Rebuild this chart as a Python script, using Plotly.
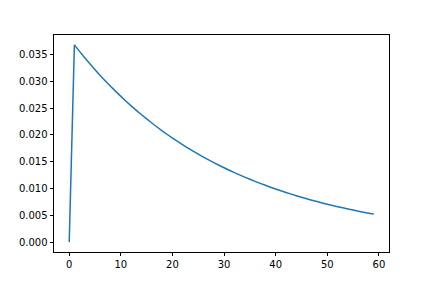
import plotly.graph_objects as go

steps = list(range(60))
values = [
    0.0, 0.03680, 0.03558, 0.03440, 0.03327, 0.03217, 0.03110, 0.03007, 0.02908, 0.02812,
    0.02719, 0.02629, 0.02542, 0.02458, 0.02376, 0.02298, 0.02222, 0.02148, 0.02077, 0.02008,
    0.01942, 0.01878, 0.01815, 0.01755, 0.01697, 0.01641, 0.01587, 0.01534, 0.01483, 0.01434,
    0.01387, 0.01341, 0.01297, 0.01254, 0.01212, 0.01172, 0.01133, 0.01096, 0.01060, 0.01025,
    0.00991, 0.00958, 0.00926, 0.00896, 0.00866, 0.00837, 0.00810, 0.00783, 0.00757, 0.00732,
    0.00708, 0.00684, 0.00662, 0.00640, 0.00619, 0.00598, 0.00578, 0.00559, 0.00541, 0.00523,
]
x_ticks = [0, 10, 20, 30, 40, 50, 60]
y_ticks = [0.0, 0.005, 0.010, 0.015, 0.020, 0.025, 0.030, 0.035]

fig = go.Figure()
fig.add_trace(go.Scatter(x=steps, y=values, mode="lines",
                         line=dict(color="#1f77b4", width=1.5, simplify=False)))

axis_common = dict(showline=True, linecolor="black", linewidth=0.8, mirror=True,
                   ticks="outside", ticklen=3.5, tickwidth=0.8, tickcolor="black",
                   showgrid=False, zeroline=False,
                   tickfont=dict(family="DejaVu Sans", size=10, color="black"))

fig.update_layout(
    width=432, height=288,
    margin=dict(l=54, r=43, t=35, b=36),
    paper_bgcolor="white", plot_bgcolor="white",
    showlegend=False,
    xaxis=dict(range=[-2.95, 61.95], tickvals=x_ticks, **axis_common),
    yaxis=dict(range=[-0.00184, 0.03864], tickvals=y_ticks, tickformat=".3f", **axis_common),
)

fig.write_html("out.html")
